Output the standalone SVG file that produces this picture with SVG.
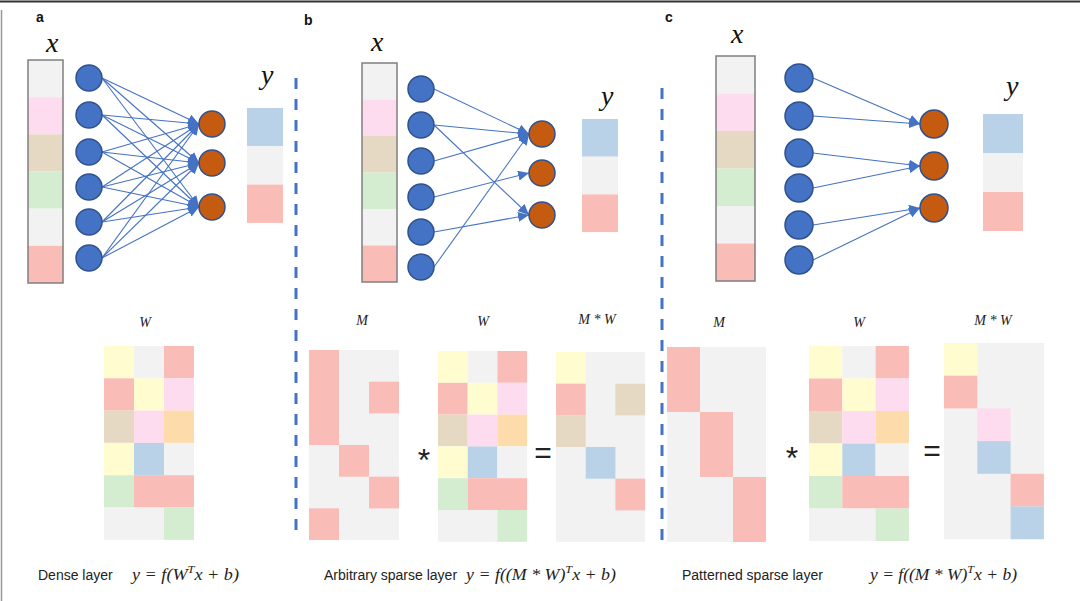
<svg xmlns="http://www.w3.org/2000/svg" width="1080" height="601" viewBox="0 0 1080 601">
<defs>
<marker id="ah" markerUnits="userSpaceOnUse" markerWidth="11" markerHeight="10" refX="11" refY="5" orient="auto">
<path d="M0,0 L11,5 L0,10 z" fill="#4472c4"/>
</marker>
</defs>
<style>
.g{fill:#f2f2f2}.pk{fill:#fcdcee}.tn{fill:#e6d9c3}.gr{fill:#d4ecd0}.s{fill:#f9bcb7}.bl{fill:#b9d2e7}.yl{fill:#fffdd0}.pc{fill:#fddbaa}
.box{fill:none;stroke:#7f7f7f;stroke-width:1.5}
.in{fill:#4472c4;stroke:#2f528f;stroke-width:1.5}
.out{fill:#c55a11;stroke:#2f528f;stroke-width:1.5}
.e{stroke:#4472c4;stroke-width:1.1;fill:none;marker-end:url(#ah)}
.dash{stroke:#4472c4;stroke-width:3;stroke-dasharray:11 10;fill:none}
.lbl{font-family:"Liberation Sans",Arial,sans-serif;font-weight:bold;font-size:14px;fill:#111}
.var{font-family:"Liberation Serif","Times New Roman",serif;font-style:italic;font-size:28px;fill:#111}
.ml{font-family:"Liberation Serif","Times New Roman",serif;font-style:italic;font-size:14px;fill:#222;text-anchor:middle}
.op{font-family:"Liberation Sans",Arial,sans-serif;fill:#222;text-anchor:middle}
.cap{font-family:"Liberation Sans",Arial,sans-serif;font-size:14px;fill:#222}
.fm{font-family:"Liberation Serif","Times New Roman",serif;font-style:italic;font-size:16px;fill:#222}
</style>
<rect width="1080" height="601" fill="#fff"/>
<line x1="0" y1="1.5" x2="1080" y2="1.5" stroke="#333" stroke-width="2"/>
<line x1="1.5" y1="10" x2="1.5" y2="601" stroke="#999" stroke-width="1.5"/>
<line class="dash" x1="296" y1="78" x2="296" y2="530"/>
<line class="dash" x1="662" y1="88" x2="662" y2="545"/>
<text class="lbl" x="36" y="22">a</text>
<text class="lbl" x="304" y="25">b</text>
<text class="lbl" x="665" y="22">c</text>
<text class="var" x="46" y="52">x</text>
<text class="var" x="261" y="84">y</text>
<text class="var" x="371" y="51">x</text>
<text class="var" x="601" y="105">y</text>
<text class="var" x="731" y="43">x</text>
<text class="var" x="1006" y="95">y</text>

<g id="xvec-a" transform="translate(28,60)">
<g transform="scale(35,37.17)"><rect class="g" x="0" y="0" width="1" height="1"/><rect class="pk" x="0" y="1" width="1" height="1"/><rect class="tn" x="0" y="2" width="1" height="1"/><rect class="gr" x="0" y="3" width="1" height="1"/><rect class="g" x="0" y="4" width="1" height="1"/><rect class="s" x="0" y="5" width="1" height="1"/></g>
<rect class="box" x="0" y="0" width="35" height="223"/>
</g>
<g id="yvec-a" transform="translate(247,108) scale(36,38.3)"><rect class="bl" x="0" y="0" width="1" height="1"/><rect class="g" x="0" y="1" width="1" height="1"/><rect class="s" x="0" y="2" width="1" height="1"/></g>
<g id="xvec-b" transform="translate(362,63)">
<g transform="scale(35,36.5)"><rect class="g" x="0" y="0" width="1" height="1"/><rect class="pk" x="0" y="1" width="1" height="1"/><rect class="tn" x="0" y="2" width="1" height="1"/><rect class="gr" x="0" y="3" width="1" height="1"/><rect class="g" x="0" y="4" width="1" height="1"/><rect class="s" x="0" y="5" width="1" height="1"/></g>
<rect class="box" x="0" y="0" width="35" height="219"/>
</g>
<g id="yvec-b" transform="translate(582,119) scale(36,37.7)"><rect class="bl" x="0" y="0" width="1" height="1"/><rect class="g" x="0" y="1" width="1" height="1"/><rect class="s" x="0" y="2" width="1" height="1"/></g>
<g id="xvec-c" transform="translate(716,56)">
<g transform="scale(39,37.5)"><rect class="g" x="0" y="0" width="1" height="1"/><rect class="pk" x="0" y="1" width="1" height="1"/><rect class="tn" x="0" y="2" width="1" height="1"/><rect class="gr" x="0" y="3" width="1" height="1"/><rect class="g" x="0" y="4" width="1" height="1"/><rect class="s" x="0" y="5" width="1" height="1"/></g>
<rect class="box" x="0" y="0" width="39" height="225"/>
</g>
<g id="yvec-c" transform="translate(983,114) scale(40,39)"><rect class="bl" x="0" y="0" width="1" height="1"/><rect class="g" x="0" y="1" width="1" height="1"/><rect class="s" x="0" y="2" width="1" height="1"/></g>

<g id="connectors">
<line class="e" x1="102" y1="78" x2="199" y2="124"/><line class="e" x1="102" y1="78" x2="199" y2="163"/><line class="e" x1="102" y1="78" x2="199" y2="207"/>
<line class="e" x1="102" y1="115" x2="199" y2="124"/><line class="e" x1="102" y1="115" x2="199" y2="163"/><line class="e" x1="102" y1="115" x2="199" y2="207"/>
<line class="e" x1="102" y1="152" x2="199" y2="124"/><line class="e" x1="102" y1="152" x2="199" y2="163"/><line class="e" x1="102" y1="152" x2="199" y2="207"/>
<line class="e" x1="102" y1="187" x2="199" y2="124"/><line class="e" x1="102" y1="187" x2="199" y2="163"/><line class="e" x1="102" y1="187" x2="199" y2="207"/>
<line class="e" x1="102" y1="222" x2="199" y2="124"/><line class="e" x1="102" y1="222" x2="199" y2="163"/><line class="e" x1="102" y1="222" x2="199" y2="207"/>
<line class="e" x1="102" y1="258" x2="199" y2="124"/><line class="e" x1="102" y1="258" x2="199" y2="163"/><line class="e" x1="102" y1="258" x2="199" y2="207"/>
<line class="e" x1="434" y1="89" x2="529" y2="134"/>
<line class="e" x1="434" y1="125" x2="529" y2="134"/>
<line class="e" x1="434" y1="125" x2="529" y2="215"/>
<line class="e" x1="434" y1="161" x2="529" y2="134"/>
<line class="e" x1="434" y1="197" x2="529" y2="173"/>
<line class="e" x1="434" y1="232" x2="529" y2="215"/>
<line class="e" x1="434" y1="267" x2="529" y2="134"/>
<line class="e" x1="813" y1="78" x2="920" y2="124"/>
<line class="e" x1="813" y1="116" x2="920" y2="124"/>
<line class="e" x1="813" y1="153" x2="920" y2="166"/>
<line class="e" x1="813" y1="188" x2="920" y2="166"/>
<line class="e" x1="813" y1="225" x2="920" y2="208"/>
<line class="e" x1="813" y1="260" x2="920" y2="208"/>
</g>

<g id="a-in1"><circle class="in" cx="89" cy="78" r="13"/></g>
<g id="a-in2"><circle class="in" cx="89" cy="115" r="13"/></g>
<g id="a-in3"><circle class="in" cx="89" cy="152" r="13"/></g>
<g id="a-in4"><circle class="in" cx="89" cy="187" r="13"/></g>
<g id="a-in5"><circle class="in" cx="89" cy="222" r="13"/></g>
<g id="a-in6"><circle class="in" cx="89" cy="258" r="13"/></g>
<g id="a-out1"><circle class="out" cx="212" cy="124" r="13"/></g>
<g id="a-out2"><circle class="out" cx="212" cy="163" r="13"/></g>
<g id="a-out3"><circle class="out" cx="212" cy="207" r="13"/></g>
<g id="b-in1"><circle class="in" cx="421" cy="89" r="13"/></g>
<g id="b-in2"><circle class="in" cx="421" cy="125" r="13"/></g>
<g id="b-in3"><circle class="in" cx="421" cy="161" r="13"/></g>
<g id="b-in4"><circle class="in" cx="421" cy="197" r="13"/></g>
<g id="b-in5"><circle class="in" cx="421" cy="232" r="13"/></g>
<g id="b-in6"><circle class="in" cx="421" cy="267" r="13"/></g>
<g id="b-out1"><circle class="out" cx="542" cy="134" r="13"/></g>
<g id="b-out2"><circle class="out" cx="542" cy="173" r="13"/></g>
<g id="b-out3"><circle class="out" cx="542" cy="215" r="13"/></g>
<g id="c-in1"><circle class="in" cx="799" cy="78" r="14"/></g>
<g id="c-in2"><circle class="in" cx="799" cy="116" r="14"/></g>
<g id="c-in3"><circle class="in" cx="799" cy="153" r="14"/></g>
<g id="c-in4"><circle class="in" cx="799" cy="188" r="14"/></g>
<g id="c-in5"><circle class="in" cx="799" cy="225" r="14"/></g>
<g id="c-in6"><circle class="in" cx="799" cy="260" r="14"/></g>
<g id="c-out1"><circle class="out" cx="934" cy="124" r="14"/></g>
<g id="c-out2"><circle class="out" cx="934" cy="166" r="14"/></g>
<g id="c-out3"><circle class="out" cx="934" cy="208" r="14"/></g>

<text class="ml" x="145" y="327">W</text>
<text class="ml" x="362" y="325">M</text>
<text class="ml" x="483" y="326">W</text>
<text class="ml" x="597" y="324">M * W</text>
<text class="ml" x="719" y="327">M</text>
<text class="ml" x="859" y="327">W</text>
<text class="ml" x="993" y="325">M * W</text>

<g id="W-a" transform="translate(104,346) scale(30,32.3)">
<rect class="yl" x="0" y="0" width="1" height="1"/><rect class="g" x="1" y="0" width="1" height="1"/><rect class="s" x="2" y="0" width="1" height="1"/>
<rect class="s" x="0" y="1" width="1" height="1"/><rect class="yl" x="1" y="1" width="1" height="1"/><rect class="pk" x="2" y="1" width="1" height="1"/>
<rect class="tn" x="0" y="2" width="1" height="1"/><rect class="pk" x="1" y="2" width="1" height="1"/><rect class="pc" x="2" y="2" width="1" height="1"/>
<rect class="yl" x="0" y="3" width="1" height="1"/><rect class="bl" x="1" y="3" width="1" height="1"/><rect class="g" x="2" y="3" width="1" height="1"/>
<rect class="gr" x="0" y="4" width="1" height="1"/><rect class="s" x="1" y="4" width="2" height="1"/>
<rect class="g" x="0" y="5" width="2" height="1"/><rect class="gr" x="2" y="5" width="1" height="1"/>
</g>

<g id="M-b" transform="translate(309,350) scale(30,31.67)">
<rect class="g" x="0" y="0" width="3" height="6"/>
<rect class="s" x="0" y="0" width="1" height="3"/><rect class="s" x="2" y="1" width="1" height="1"/><rect class="s" x="1" y="3" width="1" height="1"/><rect class="s" x="2" y="4" width="1" height="1"/><rect class="s" x="0" y="5" width="1" height="1"/>
</g>
<g id="W-b" transform="translate(438,351) scale(29.7,31.8)">
<rect class="yl" x="0" y="0" width="1" height="1"/><rect class="g" x="1" y="0" width="1" height="1"/><rect class="s" x="2" y="0" width="1" height="1"/>
<rect class="s" x="0" y="1" width="1" height="1"/><rect class="yl" x="1" y="1" width="1" height="1"/><rect class="pk" x="2" y="1" width="1" height="1"/>
<rect class="tn" x="0" y="2" width="1" height="1"/><rect class="pk" x="1" y="2" width="1" height="1"/><rect class="pc" x="2" y="2" width="1" height="1"/>
<rect class="yl" x="0" y="3" width="1" height="1"/><rect class="bl" x="1" y="3" width="1" height="1"/><rect class="g" x="2" y="3" width="1" height="1"/>
<rect class="gr" x="0" y="4" width="1" height="1"/><rect class="s" x="1" y="4" width="2" height="1"/>
<rect class="g" x="0" y="5" width="2" height="1"/><rect class="gr" x="2" y="5" width="1" height="1"/>
</g>
<g id="MW-b" transform="translate(556,352) scale(29.7,31.67)">
<rect class="g" x="0" y="0" width="3" height="6"/>
<rect class="yl" x="0" y="0" width="1" height="1"/><rect class="s" x="0" y="1" width="1" height="1"/><rect class="tn" x="2" y="1" width="1" height="1"/><rect class="tn" x="0" y="2" width="1" height="1"/><rect class="bl" x="1" y="3" width="1" height="1"/><rect class="s" x="2" y="4" width="1" height="1"/>
</g>
<text class="op" x="424" y="471" font-size="32">*</text>
<text class="op" x="543" y="463" font-size="30">=</text>

<g id="M-c" transform="translate(667,347) scale(33,32.5)">
<rect class="g" x="0" y="0" width="3" height="6"/>
<rect class="s" x="0" y="0" width="1" height="2"/><rect class="s" x="1" y="2" width="1" height="2"/><rect class="s" x="2" y="4" width="1" height="2"/>
</g>
<g id="W-c" transform="translate(809,346) scale(33.3,32.5)">
<rect class="yl" x="0" y="0" width="1" height="1"/><rect class="g" x="1" y="0" width="1" height="1"/><rect class="s" x="2" y="0" width="1" height="1"/>
<rect class="s" x="0" y="1" width="1" height="1"/><rect class="yl" x="1" y="1" width="1" height="1"/><rect class="pk" x="2" y="1" width="1" height="1"/>
<rect class="tn" x="0" y="2" width="1" height="1"/><rect class="pk" x="1" y="2" width="1" height="1"/><rect class="pc" x="2" y="2" width="1" height="1"/>
<rect class="yl" x="0" y="3" width="1" height="1"/><rect class="bl" x="1" y="3" width="1" height="1"/><rect class="g" x="2" y="3" width="1" height="1"/>
<rect class="gr" x="0" y="4" width="1" height="1"/><rect class="s" x="1" y="4" width="2" height="1"/>
<rect class="g" x="0" y="5" width="2" height="1"/><rect class="gr" x="2" y="5" width="1" height="1"/>
</g>
<g id="MW-c" transform="translate(944,343) scale(33.3,32.7)">
<rect class="g" x="0" y="0" width="3" height="6"/>
<rect class="yl" x="0" y="0" width="1" height="1"/><rect class="s" x="0" y="1" width="1" height="1"/><rect class="pk" x="1" y="2" width="1" height="1"/><rect class="bl" x="1" y="3" width="1" height="1"/><rect class="s" x="2" y="4" width="1" height="1"/><rect class="bl" x="2" y="5" width="1" height="1"/>
</g>
<text class="op" x="792" y="469" font-size="32">*</text>
<text class="op" x="932" y="461" font-size="30">=</text>

<text class="cap" x="38" y="580">Dense layer</text>
<text class="fm" x="132" y="580" textLength="107" lengthAdjust="spacingAndGlyphs">y = f(W<tspan font-size="11" dy="-7">T</tspan><tspan dy="7">x + b)</tspan></text>
<text class="cap" x="324" y="580">Arbitrary sparse layer</text>
<text class="fm" x="466" y="580" textLength="150" lengthAdjust="spacingAndGlyphs">y =  f((M * W)<tspan font-size="11" dy="-7">T</tspan><tspan dy="7">x + b)</tspan></text>
<text class="cap" x="682" y="580">Patterned sparse layer</text>
<text class="fm" x="870" y="580" textLength="147" lengthAdjust="spacingAndGlyphs">y =  f((M * W)<tspan font-size="11" dy="-7">T</tspan><tspan dy="7">x + b)</tspan></text>
</svg>
